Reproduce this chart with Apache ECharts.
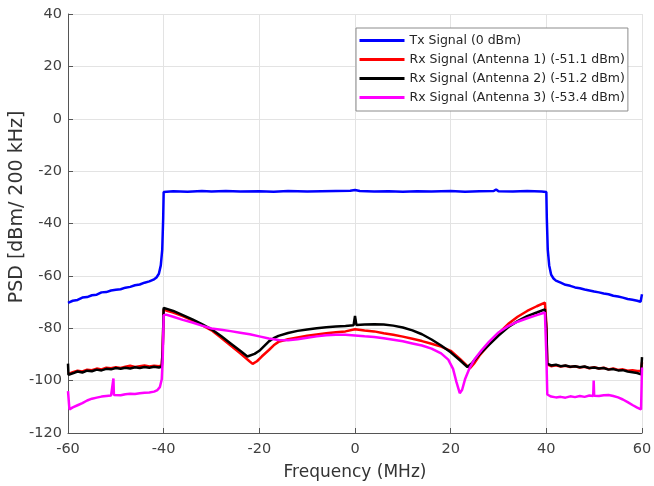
<!DOCTYPE html>
<html>
<head>
<meta charset="utf-8">
<script src="https://cdn.jsdelivr.net/npm/echarts@6/dist/echarts.min.js"></script>
<style>
  html, body { margin: 0; padding: 0; background: #fff; }
  #chart { width: 654px; height: 486px; }
</style>
</head>
<body>
<div id="chart"></div>
<script>
// Tx signal
const txFreq = [-60,-59,-58,-57,-56,-55,-54,-53,-52,-51,-50,-49,-48,-47,-46,-45,-44,-43,-42,-41.5,-41,-40.6,-40.3,-40.1,-40,
  -38,-35,-32,-30,-27,-24,-20,-17,-14,-10,-7,-4,-1,0,1,4,7,10,13,16,20,23,26,29,29.5,30,33,36,39,
  40,40.1,40.3,40.6,41,41.5,42,43,44,45,46,47,48,49,50,51,52,53,54,55,56,57,58,59,59.7,59.9,60];
const txPsd = [-70.3,-69.5,-69.2,-68.3,-68.1,-67.4,-67.2,-66.3,-66.2,-65.6,-65.3,-65.1,-64.5,-64.2,-63.6,-63.3,-62.6,-62.1,-61.3,-60.6,-59.2,-56,-50,-38,-28,
  -27.7,-27.9,-27.6,-27.8,-27.6,-27.8,-27.7,-27.9,-27.6,-27.8,-27.7,-27.6,-27.5,-27.2,-27.6,-27.8,-27.7,-27.9,-27.7,-27.8,-27.6,-27.9,-27.7,-27.6,-27.0,-27.7,-27.8,-27.6,-27.8,
  -28,-38,-50,-56,-59.5,-61,-61.8,-62.6,-63.4,-63.8,-64.4,-64.7,-65.2,-65.6,-66,-66.3,-66.7,-67,-67.6,-67.9,-68.3,-68.8,-69.1,-69.5,-69.9,-70.2,-67];

// Rx antenna 1
const ant1Freq = [-60,-59,-58,-57,-56,-55,-54,-53,-52,-51,-50,-49,-48,-47,-46,-45,-44,-43,-42,-41,
  -40.4,-40.2,-40,-39.5,-38,-36,-34,-32,-30,-28,-26,-24,-22,-21.4,-20.5,-19.5,-18,-17,-16,
  -14,-12,-10,-8,-6,-4,-2,0,2,4,6,8,10,12,14,16,18,20,22,24,25,26,28,30,32,34,36,38,
  39.7,40,40.2,41,42,43,44,45,46,47,48,49,50,51,52,53,54,55,56,57,58,59,59.8,60];
const ant1Psd = [-97.5,-96.8,-96.2,-96.5,-95.8,-96.0,-95.4,-95.7,-95.1,-95.3,-94.9,-95.2,-94.7,-94.3,-94.8,-94.5,-94.2,-94.6,-94.3,-94.5,
  -94.2,-88,-72.8,-73.2,-74,-75.4,-77,-78.8,-80.8,-83.6,-86.6,-89.6,-92.7,-93.6,-92.6,-90.8,-88.3,-86.5,-85.2,
  -84.2,-83.5,-82.9,-82.4,-81.9,-81.5,-81.2,-80.4,-80.9,-81.2,-81.9,-82.5,-83.2,-84.0,-84.9,-85.9,-87.0,-88.6,-91.8,-95.3,-93.2,-90.5,-86.2,-82,-78.4,-75.6,-73.4,-71.6,
  -70.2,-78,-93.8,-94.5,-94.1,-94.6,-94.3,-94.8,-94.5,-95.0,-94.7,-95.3,-94.9,-95.4,-95.1,-95.7,-95.4,-95.9,-95.7,-96.2,-96.0,-96.3,-96.2,-93];

// Rx antenna 2
const ant2Freq = [-60,-59.9,-59,-58,-57,-56,-55,-54,-53,-52,-51,-50,-49,-48,-47,-46,-45,-44,-43,-42,-41,
  -40.4,-40.2,-40,-39.5,-38,-36,-34,-32,-30,-28,-26,-24,-22.5,-21,-20,-19,-18,-17,-16,
  -14,-12,-10,-8,-6,-4,-2,-0.3,0,0.3,2,4,6,8,10,12,14,16,18,20,22,23.5,24.5,26,28,30,32,34,36,38,
  39.7,40,40.2,41,42,43,44,45,46,47,48,49,50,51,52,53,54,55,56,57,58,59,59.8,60];
const ant2Psd = [-93.5,-97.8,-97.2,-96.5,-96.9,-96.2,-96.4,-95.8,-96.1,-95.5,-95.7,-95.2,-95.5,-95.1,-95.4,-94.9,-95.2,-94.8,-95.1,-94.7,-95.0,
  -94.6,-88,-72.2,-72.5,-73.4,-75,-76.6,-78.4,-80.4,-83,-85.8,-88.6,-90.8,-89.8,-88.6,-86.8,-85,-83.8,-82.9,
  -81.8,-81.0,-80.5,-80.0,-79.6,-79.3,-79.1,-78.9,-75.3,-78.8,-78.6,-78.5,-78.6,-79.0,-79.7,-80.8,-82.3,-84.3,-86.6,-89.2,-92.3,-94.8,-93.2,-90,-86.3,-82.8,-79.6,-77.3,-75.4,-74,
  -72.8,-80,-93.5,-94.2,-93.9,-94.5,-94.2,-94.7,-94.5,-94.9,-94.6,-95.2,-95.0,-95.4,-95.2,-95.8,-95.6,-96.1,-96.0,-96.5,-96.8,-97.1,-97.6,-91];

// Rx antenna 3
const ant3Freq = [-60,-59.7,-59,-58,-57,-56,-55,-54,-53,-52,-51,-50.6,-50.5,-50.4,-50,-49,-48,-47,-46,-45,-44,-43,-42,
  -41.3,-40.8,-40.4,-40.2,-40,-39.5,-38,-36,-34,-32,-30,-28,-26,-24,-22,-20,-18,-16,-14,-12,-10,-8,-6,-4,-2,
  0,2,4,6,8,10,12,14,16,18,19.5,20.5,21.2,21.9,22.4,23,24,25,26.5,28,30,32,34,36,38,
  39.7,40,40.2,41,42,43,44,45,46,47,48,49,49.8,49.9,50,51,52,53,54,55,56,57,58,59,59.8,60];
const ant3Psd = [-104,-111,-110.2,-109.4,-108.6,-107.6,-106.9,-106.5,-106.1,-105.9,-105.7,-105.5,-99.2,-105.5,-105.4,-105.6,-105.2,-105.0,-105.1,-104.8,-104.6,-104.5,-104.2,
  -103.6,-102.5,-99.5,-92,-75,-74.8,-75.6,-76.8,-77.8,-79,-80.1,-80.6,-81.1,-81.7,-82.3,-83.1,-83.9,-84.5,-84.6,-84.2,-83.6,-83.1,-82.7,-82.5,-82.5,
  -82.8,-83.1,-83.3,-83.8,-84.4,-85.0,-85.8,-86.6,-87.8,-89.6,-92,-95.5,-100.5,-104.8,-103.5,-99.5,-95,-91.8,-88.3,-85.2,-81.6,-79.2,-77.5,-76.2,-75,
  -74,-90,-105.3,-106.1,-106.4,-106.2,-106.5,-106.0,-106.3,-105.9,-106.2,-105.7,-105.9,-100,-105.8,-105.9,-105.6,-105.5,-105.9,-106.4,-107.2,-108.2,-109.3,-110.3,-111,-95];

const seriesNames = [
  'Tx Signal (0 dBm)',
  'Rx Signal (Antenna 1) (-51.1 dBm)',
  'Rx Signal (Antenna 2) (-51.2 dBm)',
  'Rx Signal (Antenna 3) (-53.4 dBm)'
];
const seriesColors = ['#0000ff', '#ff0000', '#000000', '#ff00ff'];

const xTicks = { min: -60, max: 60, interval: 20 };
const yTicks = { min: -120, max: 40, interval: 20 };

function zip(xs, ys) {
  return xs.map((x, i) => [x, ys[i]]);
}

const curves = [
  zip(txFreq, txPsd),
  zip(ant1Freq, ant1Psd),
  zip(ant2Freq, ant2Psd),
  zip(ant3Freq, ant3Psd)
];

const chart = echarts.init(document.getElementById('chart'), null, { renderer: 'canvas' });

const font = 'DejaVu Sans';

chart.setOption({
  animation: false,
  backgroundColor: '#ffffff',
  grid: {
    left: 68,
    right: 12,
    top: 14,
    bottom: 53,
    containLabel: false,
    outerBoundsMode: 'none'
  },
  legend: {
    data: seriesNames,
    orient: 'vertical',
    left: 356,
    top: 28,
    padding: [6, 3, 7, 2],
    itemGap: 6,
    itemWidth: 45,
    itemHeight: 14,
    backgroundColor: '#ffffff',
    borderColor: '#8c8c8c',
    borderWidth: 1,
    borderRadius: 0,
    itemStyle: { opacity: 0 },
    lineStyle: { width: 3 },
    textStyle: {
      fontFamily: font,
      fontSize: 12.5,
      color: '#262626'
    }
  },
  xAxis: {
    type: 'value',
    min: xTicks.min,
    max: xTicks.max,
    interval: xTicks.interval,
    name: 'Frequency (MHz)',
    nameLocation: 'middle',
    nameGap: 31,
    nameMoveOverlap: false,
    nameTextStyle: { fontFamily: font, fontSize: 17, color: '#333333' },
    axisLine: { onZero: false, lineStyle: { color: '#555555', width: 1 } },
    axisTick: { inside: true, length: 5, lineStyle: { color: '#555555' } },
    axisLabel: { fontFamily: font, fontSize: 14.5, color: '#404040', margin: 9 },
    splitLine: { show: true, lineStyle: { color: '#e3e3e3', width: 1 } }
  },
  yAxis: {
    type: 'value',
    min: yTicks.min,
    max: yTicks.max,
    interval: yTicks.interval,
    name: 'PSD [dBm/ 200 kHz]',
    nameLocation: 'middle',
    nameGap: 41,
    nameMoveOverlap: false,
    nameTextStyle: { fontFamily: font, fontSize: 19, color: '#333333', padding: [0, 0, 0, 33] },
    axisLine: { show: true, onZero: false, lineStyle: { color: '#555555', width: 1 } },
    axisTick: { show: true, inside: true, length: 5, lineStyle: { color: '#555555' } },
    axisLabel: { fontFamily: font, fontSize: 14.5, color: '#404040', margin: 6 },
    splitLine: { show: true, lineStyle: { color: '#e3e3e3', width: 1 } }
  },
  series: curves.map((data, i) => ({
    name: seriesNames[i],
    type: 'line',
    data: data,
    symbol: 'none',
    showSymbol: false,
    color: seriesColors[i],
    lineStyle: { color: seriesColors[i], width: 2.5 },
    z: 2 + i
  }))
});
</script>
</body>
</html>
